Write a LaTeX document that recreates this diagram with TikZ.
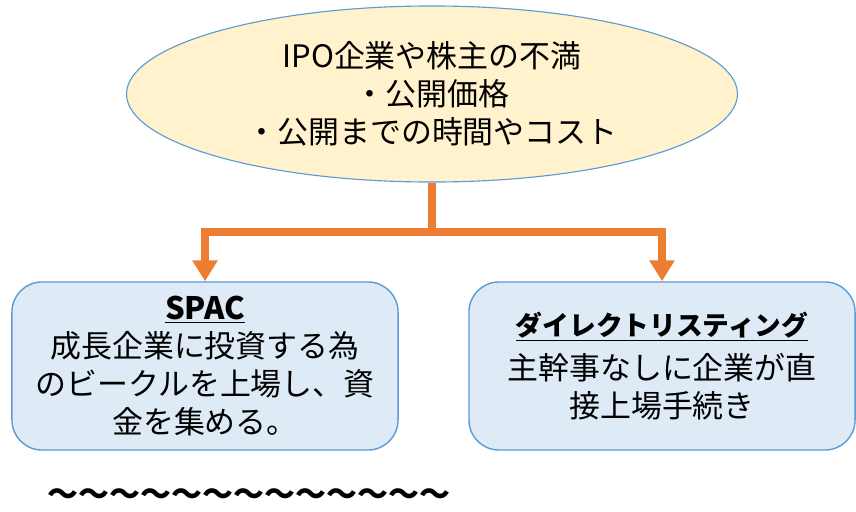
\documentclass[tikz,border=0pt]{standalone}
\usepackage{fontspec}
\setmainfont{Noto Sans CJK JP}
\usepackage{tikz}
\usetikzlibrary{positioning,shapes.geometric,arrows.meta}
\definecolor{paleyellow}{HTML}{FFF2CC}
\definecolor{paleblue}{HTML}{DEEBF7}
\definecolor{edgeblue}{HTML}{5B9BD5}
\definecolor{linkorange}{HTML}{ED7D31}

\begin{document}
\begin{tikzpicture}[x=0.025cm,y=-0.025cm,
  jptext/.style={font=\fontsize{22}{27}\selectfont,align=center,text=black},
  topic/.style={ellipse,draw=edgeblue,line width=0.8pt,fill=paleyellow,
    minimum width=15.27cm,minimum height=4.4cm,inner sep=0pt,jptext},
  kind/.style={rectangle,rounded corners=0.75cm,draw=edgeblue,line width=1pt,fill=paleblue,
    minimum width=9.65cm,minimum height=4.2cm,inner sep=0pt,jptext},
  link/.style={linkorange,line width=5pt,-{Triangle[width=0.6cm,length=0.52cm]}}]
\useasboundingbox (0,0) rectangle (856,512);
\node[topic] (ipo) at (432,94) {IPO企業や株主の不満\\・公開価格\\・公開までの時間やコスト};
\node[kind] (spac) at (205,366) {\textbf{\underline{SPAC}}\\成長企業に投資する為\\のビークルを上場し、資\\金を集める。};
\node[kind] (dlist) at (662,366) {{\fontsize{19}{27}\selectfont\textbf{\underline{ダイレクトリスティング}}}\\[4pt]主幹事なしに企業が直\\接上場手続き};
\coordinate (fork) at (432,232);
\draw[linkorange,line width=5pt] (ipo.south) -- (fork);
\draw[link] (fork) -| (spac.north);
\draw[link] (fork) -| (dlist.north);
\node[jptext] (waves) at (249,497) {\textbf{〜〜〜〜〜〜〜〜〜〜〜〜〜}};
\end{tikzpicture}
\end{document}
